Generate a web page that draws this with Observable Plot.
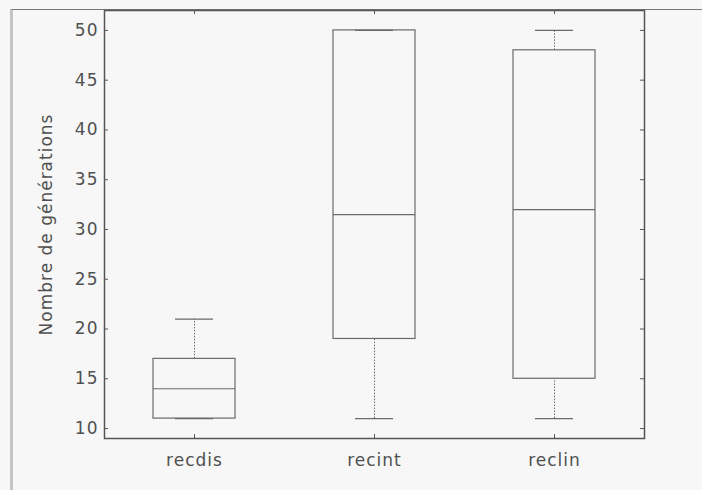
<!DOCTYPE html>
<html>
<head>
<meta charset="utf-8">
<script src="https://cdn.jsdelivr.net/npm/d3@7"></script>
<script src="https://cdn.jsdelivr.net/npm/@observablehq/plot@0.6"></script>
<style>
  html, body { margin: 0; padding: 0; background: #f7f7f7; }
  #wrap { position: relative; width: 702px; height: 490px; overflow: hidden; }
  #border { position: absolute; left: 10px; top: 9px; right: 0; bottom: -2px;
            border-left: 3px solid #c4c4c4; border-top: 1.5px solid #777; pointer-events: none; }
  svg text { letter-spacing: 1px; }
</style>
</head>
<body>
<div id="wrap"><div id="border"></div></div>
<script>
const categories = ["recdis", "recint", "reclin"];
const whiskerLow = [11, 11, 11];
const quartile1 = [11, 19, 15];
const medians = [14, 31.5, 32];
const quartile3 = [17, 50, 48];
const whiskerHigh = [21, 50, 50];
const yTicks = [10, 15, 20, 25, 30, 35, 40, 45, 50];
const yLabel = "Nombre de générations";

const rows = categories.map((c, i) => ({
  cat: c, lo: whiskerLow[i], q1: quartile1[i], med: medians[i], q3: quartile3[i], hi: whiskerHigh[i]
}));

const W = 702, H = 490;
const mL = 104, mR = 58, mT = 10, mB = 52;
const plotW = W - mL - mR, plotH = H - mT - mB;
const tickLen = 4;
const boxInset = 49, capInset = 71;
const ink = "#6a6a6a";

const chart = Plot.plot({
  width: W,
  height: H,
  marginLeft: mL,
  marginRight: mR,
  marginTop: mT,
  marginBottom: mB,
  style: { fontFamily: "'DejaVu Sans', sans-serif", fontSize: "17px", color: "#505050", background: "transparent" },
  x: { domain: categories, padding: 0 },
  y: { domain: [9, 52] },
  marks: [
    Plot.axisX({ tickSize: 0, tickPadding: 15, label: null, fontSize: 17 }),
    Plot.axisY({ ticks: yTicks, tickSize: 0, tickPadding: 6, label: yLabel, labelAnchor: "center", labelArrow: "none", labelOffset: 65, fontSize: 17 }),
    // inward ticks on the four sides
    Plot.tickY(yTicks, { y: d => d, insetRight: plotW - tickLen, stroke: "#555" }),
    Plot.tickY(yTicks, { y: d => d, insetLeft: plotW - tickLen, stroke: "#555" }),
    Plot.tickX(categories, { x: d => d, insetTop: plotH - tickLen, stroke: "#555" }),
    Plot.tickX(categories, { x: d => d, insetBottom: plotH - tickLen, stroke: "#555" }),
    // whiskers
    Plot.ruleX(rows, { x: "cat", y1: "lo", y2: "q1", stroke: ink, strokeDasharray: "1.5,1.5" }),
    Plot.ruleX(rows, { x: "cat", y1: "q3", y2: "hi", stroke: ink, strokeDasharray: "1.5,1.5" }),
    Plot.tickY(rows, { x: "cat", y: "lo", insetLeft: capInset, insetRight: capInset, stroke: ink, strokeWidth: 1.3 }),
    Plot.tickY(rows, { x: "cat", y: "hi", insetLeft: capInset, insetRight: capInset, stroke: ink, strokeWidth: 1.3 }),
    // boxes
    Plot.barY(rows, { x: "cat", y1: "q1", y2: "q3", insetLeft: boxInset, insetRight: boxInset, fill: "none", stroke: ink, strokeWidth: 1.2 }),
    Plot.tickY(rows, { x: "cat", y: "med", insetLeft: boxInset, insetRight: boxInset, stroke: ink, strokeWidth: 1.2 }),
    Plot.frame({ stroke: "#555", strokeWidth: 1.5 })
  ]
});
chart.style.position = "absolute";
chart.style.left = "0px";
chart.style.top = "0px";
document.getElementById("wrap").appendChild(chart);
</script>
</body>
</html>
